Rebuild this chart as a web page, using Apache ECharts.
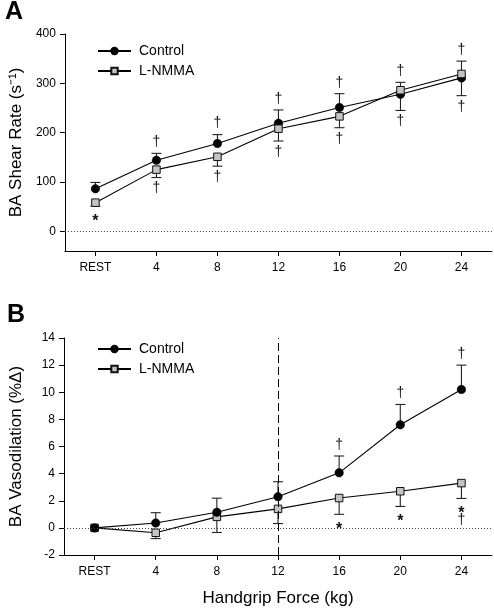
<!DOCTYPE html>
<html>
<head>
<meta charset="utf-8">
<script src="https://cdn.jsdelivr.net/npm/echarts@6/dist/echarts.min.js"></script>
<style>
  html, body { margin: 0; padding: 0; background: #fff; }
  #chart { width: 494px; height: 608px; }
</style>
</head>
<body>
<div id="chart"></div>
<script>
// ---------- data ----------
var categories = ['REST', '4', '8', '12', '16', '20', '24'];

// Panel A: BA shear rate (s^-1)
var shearControl      = [86, 144, 178, 219, 251, 278, 311];
var shearControlSE    = [13, 14, 18, 27, 28, 24, 34];     // drawn upward
var shearLnmma        = [58, 125, 151, 208, 233, 286, 319];
var shearLnmmaSE      = [7, 16, 19, 25, 23, 41, 44];      // drawn downward
var shearControlSig   = ['', '†', '†', '†', '†', '†', '†'];
var shearLnmmaSig     = ['*', '†', '†', '†', '†', '†', '†'];
var shearTicks        = [0, 100, 200, 300, 400];

// Panel B: BA vasodilation (%Δ)
var vasoControl       = [0, 0.36, 1.15, 2.3, 4.06, 7.6, 10.2];
var vasoControlSE     = [0, 0.76, 1.04, 1.1, 1.24, 1.5, 1.8];
var vasoLnmma         = [0, -0.36, 0.81, 1.4, 2.2, 2.7, 3.3];
var vasoLnmmaSE       = [0, 0.43, 1.15, 1.08, 1.2, 1.12, 1.13];
var vasoControlSig    = ['', '', '', '', '†', '†', '†'];
var vasoLnmmaSig      = ['', '', '', '', '*', '*', '*†'];
var vasoTicks         = [-2, 0, 2, 4, 6, 8, 10, 12, 14];

// ---------- helpers ----------
var FONT = "'Liberation Sans', Arial, Helvetica, sans-serif";

function errorSeries(name, gridIdx, means, ses, dir) {
  var data = means.map(function (m, i) { return [i, m, ses[i]]; });
  return {
    type: 'custom', name: name + '-err', xAxisIndex: gridIdx, yAxisIndex: gridIdx,
    z: 1, silent: true, data: data,
    renderItem: function (params, api) {
      var i = api.value(0), m = api.value(1), se = api.value(2);
      if (!se) return null;
      var p0 = api.coord([i, m]);
      var p1 = api.coord([i, m + dir * se]);
      var hw = 5;
      var st = { stroke: '#222', lineWidth: 1.1 };
      return {
        type: 'group',
        children: [
          { type: 'line', shape: { x1: p0[0], y1: p0[1], x2: p1[0], y2: p1[1] }, style: st },
          { type: 'line', shape: { x1: p1[0] - hw, y1: p1[1], x2: p1[0] + hw, y2: p1[1] }, style: st }
        ]
      };
    }
  };
}

function sigSeries(name, gridIdx, means, ses, sigs, dir) {
  var data = means.map(function (m, i) { return [i, m + dir * ses[i], sigs[i]]; });
  return {
    type: 'custom', name: name + '-sig', xAxisIndex: gridIdx, yAxisIndex: gridIdx,
    z: 4, silent: true, data: data,
    renderItem: function (params, api) {
      var i = api.value(0), cap = api.value(1);
      var s = sigs[params.dataIndex];
      if (!s) return null;
      var p = api.coord([i, cap]);
      var chars = s.split('');
      var children = [];
      chars.forEach(function (c, k) {
        var off = 11 + k * 11;
        var yy = p[1] - dir * off;
        if (c === '*') yy += 4;
        children.push({
          type: 'text',
          style: {
            text: c, x: p[0], y: yy,
            textAlign: 'center', textVerticalAlign: 'middle',
            align: 'center', verticalAlign: 'middle',
            fontSize: c === '*' ? 16 : 14,
            fontWeight: c === '*' ? 'bold' : 'normal',
            fontFamily: FONT, fill: '#111'
          }
        });
      });
      return { type: 'group', children: children };
    }
  };
}

function lineSeries(name, gridIdx, values, isControl, extra) {
  var s = {
    type: 'line', name: name, xAxisIndex: gridIdx, yAxisIndex: gridIdx,
    data: values, z: 3,
    symbol: isControl ? 'circle' : 'rect',
    symbolSize: isControl ? 8.5 : 7.5,
    showAllSymbol: true,
    lineStyle: { color: '#000', width: 1.1 },
    itemStyle: isControl ? { color: '#000', borderColor: '#000', borderWidth: 0.5 }
                         : { color: '#c4c4c4', borderColor: '#111', borderWidth: 1 },
    emphasis: { disabled: true },
    animation: false
  };
  if (extra) for (var k in extra) s[k] = extra[k];
  return s;
}

function yAxisCfg(gridIdx, name, min, max, ticks) {
  return {
    type: 'value', gridIndex: gridIdx, min: min, max: max,
    name: name, nameLocation: 'middle', nameGap: 39,
    nameTextStyle: { fontSize: 17, fontFamily: FONT, color: '#000' },
    axisLine: { show: true, lineStyle: { color: '#000', width: 1 } },
    axisTick: { show: true, length: 5, customValues: ticks, lineStyle: { color: '#000' } },
    axisLabel: { customValues: ticks, fontSize: 12, fontFamily: FONT, color: '#000', margin: 9 },
    splitLine: { show: false }
  };
}

function xAxisCfg(gridIdx, name) {
  var a = {
    type: 'category', gridIndex: gridIdx, data: categories, boundaryGap: true,
    axisLine: { show: true, onZero: false, lineStyle: { color: '#000', width: 1 } },
    axisTick: { show: true, alignWithLabel: true, length: 5, lineStyle: { color: '#000' } },
    axisLabel: { fontSize: 12, fontFamily: FONT, color: '#000', margin: 11 },
    splitLine: { show: false }
  };
  if (name) {
    a.name = name; a.nameLocation = 'middle'; a.nameGap = 35;
    a.nameTextStyle = { fontSize: 17, fontFamily: FONT, color: '#000' };
  }
  return a;
}

var zeroLine = {
  silent: true, symbol: 'none', label: { show: false },
  lineStyle: { color: '#444', type: [1, 2], width: 1 },
  data: [{ yAxis: 0 }]
};
var zeroLineB = {
  silent: true, symbol: 'none', label: { show: false },
  data: [
    { yAxis: 0, lineStyle: { color: '#444', type: [1, 2], width: 1 } },
    { xAxis: '12', lineStyle: { color: '#000', type: [8, 4], width: 1 } }
  ]
};

function legendCfg(top) {
  return {
    orient: 'vertical', left: 97, top: top, padding: 0,
    itemWidth: 33, itemHeight: 8, itemGap: 6,
    data: ['Control', 'L-NMMA'],
    textStyle: { fontSize: 14, fontFamily: FONT, color: '#000', padding: [0, 0, 0, 3] },
    selectedMode: false
  };
}

var option = {
  animation: false,
  backgroundColor: '#fff',
  grid: [
    { left: 59, right: 2, top: 34, height: 217 },
    { left: 59, right: 2, top: 338, height: 217 }
  ],
  xAxis: [xAxisCfg(0, null), xAxisCfg(1, 'Handgrip Force (kg)')],
  yAxis: [
    yAxisCfg(0, 'BA Shear Rate (s⁻¹)', -40, 400, shearTicks),
    yAxisCfg(1, 'BA Vasodilation (%Δ)', -2, 14, vasoTicks)
  ],
  legend: [legendCfg(44), legendCfg(342)],
  graphic: [
    { type: 'text', left: 5, top: 0, style: { text: 'A', fontSize: 25, fontWeight: 'bold', fontFamily: FONT, fill: '#000' } },
    { type: 'text', left: 7, top: 303, style: { text: 'B', fontSize: 25, fontWeight: 'bold', fontFamily: FONT, fill: '#000' } }
  ],
  series: [
    errorSeries('Control', 0, shearControl, shearControlSE, 1),
    errorSeries('L-NMMA', 0, shearLnmma, shearLnmmaSE, -1),
    lineSeries('Control', 0, shearControl, true, { markLine: zeroLine }),
    lineSeries('L-NMMA', 0, shearLnmma, false),
    sigSeries('Control', 0, shearControl, shearControlSE, shearControlSig, 1),
    sigSeries('L-NMMA', 0, shearLnmma, shearLnmmaSE, shearLnmmaSig, -1),

    errorSeries('Control', 1, vasoControl, vasoControlSE, 1),
    errorSeries('L-NMMA', 1, vasoLnmma, vasoLnmmaSE, -1),
    lineSeries('L-NMMA', 1, vasoLnmma, false, { markLine: zeroLineB }),
    lineSeries('Control', 1, vasoControl, true),
    sigSeries('Control', 1, vasoControl, vasoControlSE, vasoControlSig, 1),
    sigSeries('L-NMMA', 1, vasoLnmma, vasoLnmmaSE, vasoLnmmaSig, -1)
  ]
};

var chart = echarts.init(document.getElementById('chart'), null, { renderer: 'canvas' });
chart.setOption(option);
</script>
</body>
</html>
